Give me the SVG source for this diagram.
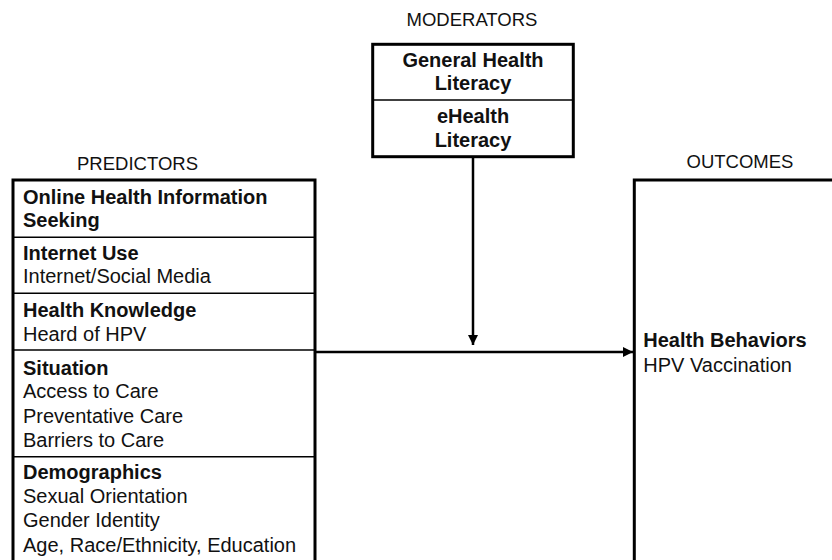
<svg xmlns="http://www.w3.org/2000/svg" width="832" height="560" viewBox="0 0 832 560">
<style>
text{font-family:"Liberation Sans",Arial,sans-serif;fill:#111;}
.h{font-size:18.5px;text-anchor:middle;}
.b{font-size:20px;font-weight:bold;}
.r{font-size:20px;}
.c{text-anchor:middle;}
.box{fill:#fff;stroke:#000;stroke-width:3;}
.div{stroke:#000;stroke-width:1.5;fill:none;}
.con{stroke:#000;stroke-width:2.5;fill:none;}
</style>
<defs>
<marker id="ah" viewBox="0 0 10 10" refX="10" refY="5" markerWidth="4.2" markerHeight="4.2" markerUnits="strokeWidth" orient="auto">
<path d="M0,0 L10,5 L0,10 Z" fill="#000"/>
</marker>
</defs>
<rect width="832" height="560" fill="#fff"/>
<g id="labels">
<text class="h" x="137.5" y="170">PREDICTORS</text>
<text class="h" x="472" y="26">MODERATORS</text>
<text class="h" x="740" y="168">OUTCOMES</text>
</g>
<g id="connectors">
<line class="con" x1="473" y1="157" x2="473" y2="345" marker-end="url(#ah)"/>
<line class="con" x1="315" y1="352" x2="633" y2="352" marker-end="url(#ah)"/>
</g>
<g id="predictors">
<rect class="box" x="13" y="180" width="302" height="390"/>
<line class="div" x1="13" y1="237.3" x2="315" y2="237.3"/>
<line class="div" x1="13" y1="293.3" x2="315" y2="293.3"/>
<line class="div" x1="13" y1="350" x2="315" y2="350"/>
<line class="div" x1="13" y1="456.7" x2="315" y2="456.7"/>
<text class="b" x="23" y="204">Online Health Information</text>
<text class="b" x="23" y="227">Seeking</text>
<text class="b" x="23" y="260">Internet Use</text>
<text class="r" x="23" y="283.3">Internet/Social Media</text>
<text class="b" x="23" y="316.7">Health Knowledge</text>
<text class="r" x="23" y="340.7">Heard of HPV</text>
<text class="b" x="23" y="375">Situation</text>
<text class="r" x="23" y="398.3">Access to Care</text>
<text class="r" x="23" y="422.7">Preventative Care</text>
<text class="r" x="23" y="446.7">Barriers to Care</text>
<text class="b" x="23" y="479.3">Demographics</text>
<text class="r" x="23" y="503.3">Sexual Orientation</text>
<text class="r" x="23" y="526.7">Gender Identity</text>
<text class="r" x="23" y="551.7">Age, Race/Ethnicity, Education</text>
</g>
<g id="moderators">
<rect class="box" x="372.7" y="44.3" width="200.6" height="112.4"/>
<line class="div" x1="372.7" y1="100" x2="573.3" y2="100"/>
<text class="b c" x="473" y="66.7">General Health</text>
<text class="b c" x="473" y="90">Literacy</text>
<text class="b c" x="473" y="123.3">eHealth</text>
<text class="b c" x="473" y="146.7">Literacy</text>
</g>
<g id="outcomes">
<rect class="box" x="634.3" y="180" width="220" height="390"/>
<text class="b" x="643.3" y="346.7">Health Behaviors</text>
<text class="r" x="643.3" y="371.7">HPV Vaccination</text>
</g>
</svg>
